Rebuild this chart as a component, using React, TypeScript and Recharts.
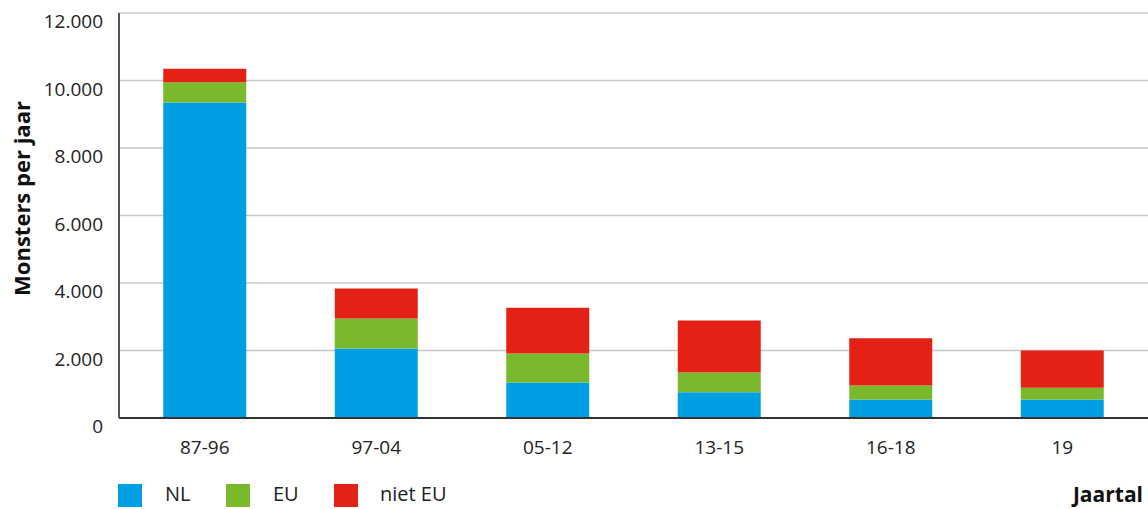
import React from "react";
import { BarChart, Bar, XAxis, YAxis, CartesianGrid, Legend } from "recharts";

// Monsters per jaar, per herkomst
const periods = ["87-96", "97-04", "05-12", "13-15", "16-18", "19"];
const nl = [9350, 2060, 1050, 760, 550, 550];
const eu = [600, 890, 860, 590, 410, 350];
const nietEu = [400, 890, 1360, 1540, 1400, 1100];
const yTicks = [0, 2000, 4000, 6000, 8000, 10000, 12000];

const series = [
  { key: "nl", name: "NL", color: "#009FE3" },
  { key: "eu", name: "EU", color: "#7AB92C" },
  { key: "nietEu", name: "niet EU", color: "#E32115" },
];

const data = periods.map((p, i) => ({
  period: p,
  nl: nl[i],
  eu: eu[i],
  nietEu: nietEu[i],
}));

const FONT = "'Open Sans', sans-serif";

const fmt = (v: number) => String(v).replace(/\B(?=(\d{3})+(?!\d))/g, ".");

const YTick = ({ x, y, payload }: any) => (
  <text x={x} y={y + 15} textAnchor="end" fontFamily={FONT} fontSize={19} fill="#222">
    {fmt(payload.value)}
  </text>
);

const XTick = ({ x, y, payload }: any) => (
  <text x={x} y={y + 34} textAnchor="middle" fontFamily={FONT} fontSize={19} fill="#222">
    {payload.value}
  </text>
);

const legendPos = [
  { box: 118, text: 165 },
  { box: 226, text: 273 },
  { box: 334, text: 380 },
];

const LegendContent = () => (
  <div style={{ position: "relative", width: 1148, height: 30, fontFamily: FONT }}>
    {series.map((s, i) => (
      <React.Fragment key={s.key}>
        <div
          style={{
            position: "absolute",
            left: legendPos[i].box,
            top: 8,
            width: 24,
            height: 23,
            background: s.color,
          }}
        />
        <div
          style={{
            position: "absolute",
            left: legendPos[i].text,
            top: 4,
            fontSize: 20,
            lineHeight: "28px",
            color: "#222",
          }}
        >
          {s.name}
        </div>
      </React.Fragment>
    ))}
    <div
      style={{
        position: "absolute",
        right: 5,
        top: 4,
        fontSize: 21,
        lineHeight: "28px",
        fontWeight: 700,
        color: "#111",
      }}
    >
      Jaartal
    </div>
  </div>
);

export default function App() {
  return (
    <div style={{ position: "absolute", left: 0, top: 0, background: "#fff" }}>
      <BarChart
        width={1148}
        height={509}
        data={data}
        margin={{ top: 13, right: 0, left: 0, bottom: 20 }}
        barCategoryGap="25.8%"
      >
        <CartesianGrid vertical={false} stroke="#c8c8c8" strokeWidth={1.5} />
        <XAxis
          dataKey="period"
          tick={<XTick />}
          tickLine={false}
          tickSize={0}
          axisLine={{ stroke: "#333", strokeWidth: 2 }}
          height={40}
          interval={0}
        />
        <YAxis
          domain={[0, 12000]}
          ticks={yTicks}
          width={119}
          tick={<YTick />}
          tickLine={false}
          tickSize={0}
          tickMargin={16}
          axisLine={{ stroke: "#555", strokeWidth: 2 }}
          label={{
            value: "Monsters per jaar",
            angle: -90,
            position: "insideLeft",
            offset: 0,
            dx: 22,
            dy: -17,
            style: { fontFamily: FONT, fontSize: 22, fontWeight: 700, fill: "#111", textAnchor: "middle" },
          }}
        />
        <Legend
          content={<LegendContent />}
          wrapperStyle={{ position: "absolute", left: 0, top: 476, width: 1148, height: 31 }}
        />
        {series.map((s) => (
          <Bar
            key={s.key}
            dataKey={s.key}
            name={s.name}
            stackId="a"
            fill={s.color}
            isAnimationActive={false}
          />
        ))}
      </BarChart>
    </div>
  );
}
